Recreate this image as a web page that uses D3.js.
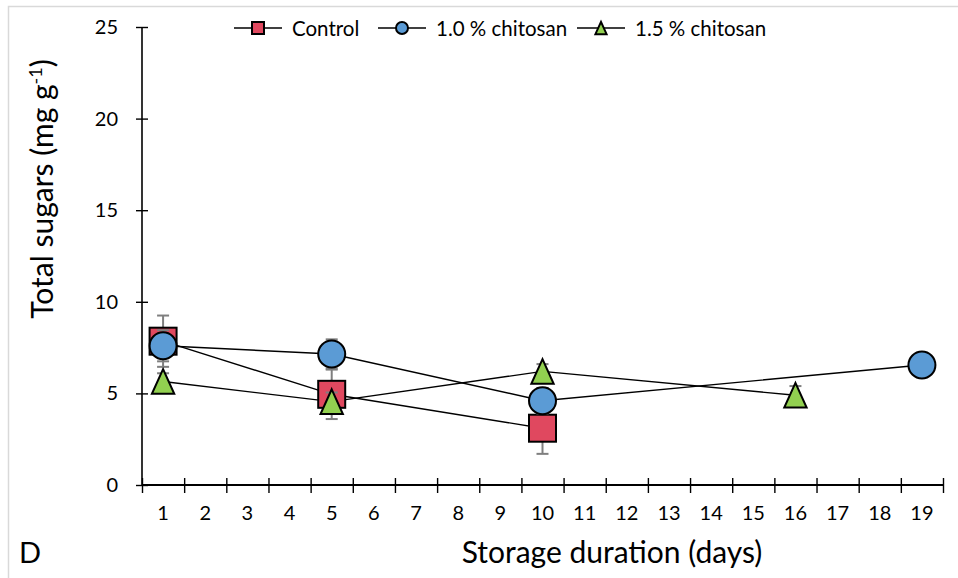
<!DOCTYPE html>
<html>
<head>
<meta charset="utf-8">
<script src="https://cdn.jsdelivr.net/npm/d3@7"></script>
<style>
  html, body { margin: 0; padding: 0; background: #fff; }
  svg { display: block; font-family: "Lato", "Open Sans", sans-serif; }
</style>
</head>
<body>
<svg id="chart" width="958" height="578"></svg>
<script>
// Storage days shown on the category axis
const days = ["1","2","3","4","5","6","7","8","9","10","11","12","13","14","15","16","17","18","19"];
const yTicks = [0, 5, 10, 15, 20, 25];

// Control
const controlDays = ["1", "5", "10"];
const controlValues = [7.85, 4.95, 3.1];
const controlErr = [1.4, 1.35, 1.4];

// 1.0 % chitosan
const chit10Days = ["1", "5", "10", "19"];
const chit10Values = [7.6, 7.15, 4.6, 6.55];
const chit10Err = [0.85, 0.8, 0.7, 0.5];

// 1.5 % chitosan
const chit15Days = ["1", "5", "10", "16"];
const chit15Values = [5.65, 4.55, 6.2, 4.9];
const chit15Err = [0.45, 0.5, 0.4, 0.5];

const seriesNames = ["Control", "1.0 % chitosan", "1.5 % chitosan"];

const series = [
  { name: seriesNames[0], days: controlDays, values: controlValues, err: controlErr, shape: "square", fill: "#e0485f" },
  { name: seriesNames[1], days: chit10Days, values: chit10Values, err: chit10Err, shape: "circle", fill: "#5b9bd5" },
  { name: seriesNames[2], days: chit15Days, values: chit15Values, err: chit15Err, shape: "triangle", fill: "#92d050" }
];

const svg = d3.select("#chart");

// light outer frame
svg.append("rect").attr("x", 8.5).attr("y", 6.5).attr("width", 1000).attr("height", 700)
  .attr("fill", "none").attr("stroke", "#d9d9d9").attr("stroke-width", 1.5);

const plotLeft = 142, plotRight = 943, plotTop = 27, plotBottom = 485;

const x = d3.scaleBand().domain(days).range([plotLeft, plotRight]);
const xEdge = d3.scaleLinear().domain([0, days.length]).range([plotLeft, plotRight]);
const y = d3.scaleLinear().domain([0, 25]).range([plotBottom, plotTop]);

// Y axis with ticks crossing the line
const yAxis = svg.append("g").attr("transform", `translate(${plotLeft},0)`)
  .call(d3.axisLeft(y).tickValues(yTicks).tickSize(6).tickPadding(18));
yAxis.select(".domain").attr("d", `M0,${plotTop}V${plotBottom}`).attr("stroke", "#000").attr("stroke-width", 1.6);
yAxis.selectAll(".tick line").attr("x1", -6).attr("x2", 6).attr("stroke", "#000").attr("stroke-width", 1.4);
yAxis.selectAll(".tick text").attr("font-size", 20).attr("fill", "#000").attr("font-family", "Lato, sans-serif");

// X axis: boundary ticks crossing the line
const xTickAxis = svg.append("g").attr("transform", `translate(0,${plotBottom})`)
  .call(d3.axisBottom(xEdge).tickValues(d3.range(0, days.length + 1)).tickFormat("").tickSize(7));
xTickAxis.select(".domain").attr("d", `M${plotLeft},0H${plotRight}`).attr("stroke", "#000").attr("stroke-width", 2);
xTickAxis.selectAll(".tick line").attr("y1", -7).attr("y2", 8).attr("stroke", "#000").attr("stroke-width", 1.4);

// X axis: category labels
const xLabelAxis = svg.append("g").attr("transform", `translate(0,${plotBottom})`)
  .call(d3.axisBottom(x).tickSize(0).tickPadding(21));
xLabelAxis.select(".domain").remove();
xLabelAxis.selectAll(".tick text").attr("font-size", 20).attr("fill", "#000").attr("font-family", "Lato, sans-serif");

// Axis titles
svg.append("text").attr("x", 612).attr("y", 563).attr("text-anchor", "middle")
  .attr("font-size", 30).attr("fill", "#000").text("Storage duration (days)");

const yTitle = svg.append("text").attr("transform", "translate(53,189) rotate(-90)")
  .attr("text-anchor", "middle").attr("font-size", 30).attr("fill", "#000");
yTitle.append("tspan").text("Total sugars (mg g");
yTitle.append("tspan").attr("font-size", 18).attr("dy", -11).text("-1");
yTitle.append("tspan").attr("dy", 11).text(")");

svg.append("text").attr("x", 19).attr("y", 563).attr("font-size", 29).attr("fill", "#000").text("D");

const cx = d => x(d) + x.bandwidth() / 2;

function drawMarker(g, shape, fill, px, py, size) {
  if (shape === "square") {
    g.append("rect").attr("x", px - size / 2).attr("y", py - size / 2)
      .attr("width", size).attr("height", size)
      .attr("fill", fill).attr("stroke", "#000").attr("stroke-width", 2);
  } else if (shape === "circle") {
    g.append("circle").attr("cx", px).attr("cy", py).attr("r", size / 2)
      .attr("fill", fill).attr("stroke", "#000").attr("stroke-width", 2);
  } else {
    const h = size * 0.95, w = size * 0.86;
    g.append("path").attr("d", `M${px},${py - h / 2}L${px + w / 2},${py + h / 2}L${px - w / 2},${py + h / 2}Z`)
      .attr("fill", fill).attr("stroke", "#000").attr("stroke-width", 2).attr("stroke-linejoin", "miter");
  }
}

const line = d3.line().x(d => cx(d.day)).y(d => y(d.value));

// connecting lines
series.forEach(s => {
  const pts = s.days.map((d, i) => ({ day: d, value: s.values[i] }));
  svg.append("path").datum(pts).attr("d", line)
    .attr("fill", "none").attr("stroke", "#000").attr("stroke-width", 1.4);
});

// error bars and markers, series by series
series.forEach(s => {
  const g = svg.append("g");
  s.days.forEach((d, i) => {
    const px = cx(d);
    const lo = y(s.values[i] - s.err[i]), hi = y(s.values[i] + s.err[i]);
    g.append("line").attr("x1", px).attr("x2", px).attr("y1", lo).attr("y2", hi)
      .attr("stroke", "#7f7f7f").attr("stroke-width", 2);
    [lo, hi].forEach(v => g.append("line").attr("x1", px - 6).attr("x2", px + 6).attr("y1", v).attr("y2", v)
      .attr("stroke", "#7f7f7f").attr("stroke-width", 2));
  });
  s.days.forEach((d, i) => {
    const sz = s.shape === "square" ? 27 : (s.shape === "circle" ? 27 : 26);
    drawMarker(g, s.shape, s.fill, cx(d), y(s.values[i]), sz);
  });
});

// Legend
const legendX = [234, 378, 577];
const legend = svg.append("g");
series.forEach((s, i) => {
  const lx = legendX[i], ly = 28;
  legend.append("line").attr("x1", lx).attr("x2", lx + 48).attr("y1", ly).attr("y2", ly)
    .attr("stroke", "#000").attr("stroke-width", 1.4);
  drawMarker(legend, s.shape, s.fill, lx + 24, ly, s.shape === "triangle" ? 13 : 12);
  legend.append("text").attr("x", lx + 58).attr("y", ly + 7.5).attr("font-size", 20.5).attr("fill", "#000").text(s.name);
});
</script>
</body>
</html>
